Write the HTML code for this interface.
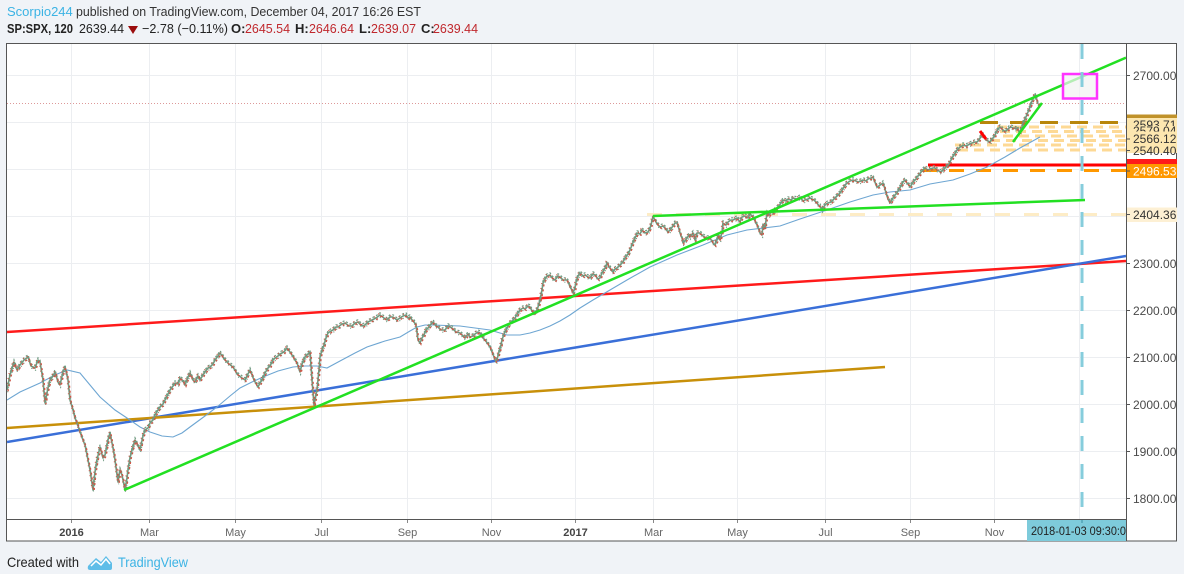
<!DOCTYPE html>
<html><head><meta charset="utf-8"><style>
html,body{margin:0;padding:0;background:#f0f3f7;width:1184px;height:574px;overflow:hidden;}
svg{display:block;}
text{font-family:"Liberation Sans",sans-serif;}
</style></head><body>
<svg width="1184" height="574" viewBox="0 0 1184 574" xmlns="http://www.w3.org/2000/svg" xmlns:xlink="http://www.w3.org/1999/xlink">
<defs>
<clipPath id="pane"><rect x="7" y="44" width="1119" height="475"/></clipPath>
<clipPath id="tl"><rect x="1027" y="520" width="99" height="21"/></clipPath>
<polyline id="px" points="7,390 10,375 14,362 17,370 20,365 24,360 28,357 31,366 35,368 38,360 40,362 43,380 45,403 48,388 50,380 53,376 55,372 58,382 60,385 63,372 65,367 68,380 70,400 73,410 75,418 78,426 80,432 83,440 85,445 88,460 90,470 93,490 95,472 97,460 100,447 103,458 105,455 108,440 110,433 113,448 115,460 118,482 120,470 122,475 125,490 127,478 128,470 130,458 132,450 135,440 138,446 140,450 143,436 145,430 148,428 150,423 153,420 155,415 158,410 160,407 163,404 165,400 168,394 170,390 173,386 175,383 178,384 180,378 183,381 185,385 188,377 190,373 193,380 195,382 198,376 200,380 203,375 205,372 208,368 210,367 213,364 215,360 218,356 220,353 223,357 225,360 229,364 233,367 236,372 238,375 242,378 245,380 248,374 250,370 254,380 258,387 260,383 262,380 265,373 268,368 270,366 273,360 275,358 278,356 280,354 284,352 287,348 290,352 292,355 295,360 297,363 300,372 302,364 305,357 308,354 310,352 312,380 314,405 316,395 317,390 319,370 320,357 322,350 324,345 326,338 328,333 331,331 333,330 336,327 338,327 342,324 345,323 349,326 352,326 355,323 358,322 362,326 365,325 368,322 372,320 376,318 380,315 384,318 387,320 390,317 393,317 397,320 400,318 403,316 406,315 408,318 410,317 412,320 414,322 416,325 418,340 420,343 422,338 424,335 426,330 428,328 431,324 433,322 436,326 438,327 441,330 445,330 448,326 452,328 456,332 460,333 463,336 465,338 468,334 470,337 473,336 475,334 478,332 480,333 483,338 485,340 488,344 490,347 492,352 494,357 496,362 498,356 499,352 501,345 502,340 504,334 506,330 508,326 510,323 513,320 515,318 518,313 520,310 523,308 525,309 528,306 530,307 532,311 534,313 536,311 537,310 539,304 540,300 542,290 543,283 545,279 547,276 550,275 553,279 555,280 558,276 560,277 563,280 567,280 569,284 570,287 572,290 573,293 575,288 576,282 578,276 580,273 583,276 585,275 588,277 590,278 593,274 595,275 598,279 600,278 602,273 604,270 606,266 607,263 609,267 610,268 612,271 613,272 615,269 617,268 619,266 620,265 623,262 625,258 628,254 630,250 632,245 634,240 636,236 637,233 640,234 642,230 645,233 648,232 650,228 651,225 652,221 653,217 655,220 656,222 658,225 660,227 663,226 665,228 668,232 670,230 673,226 675,223 677,223 679,229 680,233 682,238 683,243 685,241 687,238 689,235 690,237 693,233 695,240 697,233 700,233 703,236 706,238 710,238 713,243 715,245 717,240 718,235 720,240 722,232 723,223 726,225 728,222 731,220 733,220 735,219 737,218 740,222 742,217 745,216 748,218 750,214 753,217 755,221 757,225 759,230 760,233 762,235 763,225 765,228 767,213 769,215 771,212 773,213 775,210 777,208 779,206 781,203 783,200 786,201 788,199 791,200 793,198 797,199 800,197 803,201 805,200 808,199 810,198 812,199 814,200 816,202 817,203 819,206 820,206 822,210 823,208 825,205 826,204 828,203 831,202 833,200 835,198 837,196 839,194 840,193 842,190 844,187 846,184 847,183 850,181 853,180 856,181 858,182 861,181 863,180 866,181 868,179 871,178 873,177 874,180 875,182 876,185 877,187 879,186 880,185 882,184 883,183 885,189 886,193 888,199 890,203 892,200 893,198 895,195 897,193 899,189 901,186 903,182 905,180 907,183 908,184 910,187 912,184 914,181 916,179 917,177 919,175 921,172 923,170 925,168 928,170 930,169 933,168 935,168 937,170 939,171 941,172 943,170 945,168 947,166 949,164 950,162 952,158 954,155 956,152 957,150 959,148 960,147 962,146 963,145 966,146 968,145 970,144 972,143 975,142 977,142 979,140 980,138 982,136 983,135 985,138 986,140 988,141 990,142 992,139 994,137 996,133 997,131 999,128 1000,127 1002,129 1004,131 1006,131 1007,130 1009,128 1011,127 1013,128 1014,128 1016,129 1017,128 1019,131 1020,132 1022,127 1023,123 1025,119 1026,117 1028,112 1030,107 1031,104 1032,101 1034,97 1035,95 1036,99 1037,100 1038,104"/>
</defs>
<rect x="0" y="0" width="1184" height="574" fill="#f0f3f7"/>
<!-- header -->
<text x="7" y="16" font-size="13" fill="#3bb3e4">Scorpio244</text>
<text x="76" y="16" font-size="13" fill="#333" textLength="345" lengthAdjust="spacingAndGlyphs">published on TradingView.com, December 04, 2017 16:26 EST</text>
<text x="7" y="33" font-size="13" font-weight="bold" fill="#222" textLength="66" lengthAdjust="spacingAndGlyphs">SP:SPX, 120</text>
<text x="79" y="33" font-size="13" fill="#222" textLength="45" lengthAdjust="spacingAndGlyphs">2639.44</text>
<polygon points="128,26 138,26 133,34" fill="#9b0d0d"/>
<text x="142" y="33" font-size="13" fill="#222" textLength="86" lengthAdjust="spacingAndGlyphs">−2.78 (−0.11%)</text>
<text x="231" y="33" font-size="13" font-weight="bold" fill="#222">O:</text>
<text x="245" y="33" font-size="13" fill="#c0282d" textLength="45" lengthAdjust="spacingAndGlyphs">2645.54</text>
<text x="295" y="33" font-size="13" font-weight="bold" fill="#222">H:</text>
<text x="309" y="33" font-size="13" fill="#c0282d" textLength="45" lengthAdjust="spacingAndGlyphs">2646.64</text>
<text x="359" y="33" font-size="13" font-weight="bold" fill="#222">L:</text>
<text x="371" y="33" font-size="13" fill="#c0282d" textLength="45" lengthAdjust="spacingAndGlyphs">2639.07</text>
<text x="421" y="33" font-size="13" font-weight="bold" fill="#222">C:</text>
<text x="433" y="33" font-size="13" fill="#c0282d" textLength="45" lengthAdjust="spacingAndGlyphs">2639.44</text>

<!-- frame -->
<rect x="6.5" y="43.5" width="1170" height="497.5" fill="#fff" stroke="#555" stroke-width="1"/>

<!-- grid -->
<g stroke="#eceef1" stroke-width="1">
<line x1="7" y1="75.5" x2="1126" y2="75.5"/>
<line x1="7" y1="122.5" x2="1126" y2="122.5"/>
<line x1="7" y1="169.5" x2="1126" y2="169.5"/>
<line x1="7" y1="216.5" x2="1126" y2="216.5"/>
<line x1="7" y1="263.5" x2="1126" y2="263.5"/>
<line x1="7" y1="310.5" x2="1126" y2="310.5"/>
<line x1="7" y1="357.5" x2="1126" y2="357.5"/>
<line x1="7" y1="404.5" x2="1126" y2="404.5"/>
<line x1="7" y1="451.5" x2="1126" y2="451.5"/>
<line x1="7" y1="498.5" x2="1126" y2="498.5"/>
<line x1="71.5" y1="44" x2="71.5" y2="519"/>
<line x1="149.5" y1="44" x2="149.5" y2="519"/>
<line x1="235.5" y1="44" x2="235.5" y2="519"/>
<line x1="321.5" y1="44" x2="321.5" y2="519"/>
<line x1="407.5" y1="44" x2="407.5" y2="519"/>
<line x1="491.5" y1="44" x2="491.5" y2="519"/>
<line x1="575.5" y1="44" x2="575.5" y2="519"/>
<line x1="653.5" y1="44" x2="653.5" y2="519"/>
<line x1="737.5" y1="44" x2="737.5" y2="519"/>
<line x1="825.5" y1="44" x2="825.5" y2="519"/>
<line x1="910.5" y1="44" x2="910.5" y2="519"/>
<line x1="994.5" y1="44" x2="994.5" y2="519"/>
<line x1="1079.5" y1="44" x2="1079.5" y2="519"/>
</g>

<g clip-path="url(#pane)">
<line x1="7" y1="103.5" x2="1126" y2="103.5" stroke="#d99" stroke-width="1" stroke-dasharray="1 2"/>

<line x1="647" y1="214.5" x2="1126" y2="214.5" stroke="#fdecc6" stroke-width="3" stroke-dasharray="15 14"/>
<g stroke="#fdd995" stroke-width="3" stroke-dasharray="10 6">
<line x1="997" y1="127" x2="1126" y2="127"/>
<line x1="1000" y1="131.5" x2="1126" y2="131.5"/>
<line x1="1003" y1="136" x2="1126" y2="136"/>
<line x1="990" y1="140.5" x2="1126" y2="140.5"/>
<line x1="955" y1="145" x2="1126" y2="145"/>
<line x1="958" y1="150" x2="1126" y2="150"/>
</g>
<line x1="980" y1="122.5" x2="1126" y2="122.5" stroke="#b8860b" stroke-width="3" stroke-dasharray="18 12"/>
<line x1="928" y1="165" x2="1126" y2="165" stroke="#ff0000" stroke-width="3"/>
<line x1="922" y1="170.5" x2="1126" y2="170.5" stroke="#ff9800" stroke-width="3" stroke-dasharray="15 12"/>

<line x1="7" y1="332" x2="1126" y2="261" stroke="#ff1a1a" stroke-width="2.5"/>
<line x1="7" y1="442" x2="1126" y2="256" stroke="#3a6fd8" stroke-width="2.5"/>
<line x1="7" y1="428" x2="885" y2="367" stroke="#c8900a" stroke-width="2.5"/>

<polyline fill="none" stroke="#6ea6d2" stroke-width="1.1" points="7,400 20,392 40,383 55,375 67,370 80,373 90,385 100,397 115,410 127,418 140,427 150,432 162,436 173,437 182,433 190,427 205,416 217,407 230,396 240,388 252,382 263,377 278,371 293,367 305,366 317,366 327,368 340,361 355,353 367,347 385,341 400,337 410,331 417,327 425,325 433,325 460,326 475,328 490,330 500,333 507,335 520,335 530,333 540,330 550,326 560,321 570,315 580,308 593,300 610,290 627,280 650,267 677,255 703,245 727,235 747,230 780,226 800,219 827,210 850,202 873,195 890,192 910,190 930,184 953,180 970,174 987,167 1005,157 1020,148 1040,137"/>

<!-- price band (candles) -->
<use xlink:href="#px" href="#px" fill="none" stroke="#6f9a80" stroke-width="1.6" stroke-linejoin="round"/>
<use xlink:href="#px" href="#px" transform="translate(0,-2.2)" fill="none" stroke="#6f9a80" stroke-width="1.2" stroke-dasharray="2 2"/>
<use xlink:href="#px" href="#px" transform="translate(0.6,2.2)" fill="none" stroke="#6f9a80" stroke-width="1.2" stroke-dasharray="1 3"/>
<use xlink:href="#px" href="#px" transform="translate(1,1.2)" fill="none" stroke="#cd5546" stroke-width="1.4" stroke-dasharray="2 3"/>
<use xlink:href="#px" href="#px" transform="translate(-1,-1.2)" fill="none" stroke="#cd5546" stroke-width="1.2" stroke-dasharray="1 4"/>

<line x1="124" y1="490" x2="1126" y2="57.7" stroke="#22e022" stroke-width="2.5"/>
<line x1="653" y1="216" x2="1085" y2="200" stroke="#22e022" stroke-width="2.5"/>
<line x1="1013" y1="142" x2="1042" y2="103" stroke="#22e022" stroke-width="2.5"/>
<line x1="980" y1="131" x2="986" y2="139" stroke="#ff0000" stroke-width="3"/>

<rect x="1063" y="74" width="34" height="24.5" fill="#f2f2f2" fill-opacity="0.7" stroke="#ff33ff" stroke-width="2.5"/>

<line x1="1082" y1="44" x2="1082" y2="519" stroke="#86cddc" stroke-width="3" stroke-dasharray="15 13"/>
</g>

<line x1="1126.5" y1="43" x2="1126.5" y2="541" stroke="#555" stroke-width="1"/>
<line x1="6" y1="519.5" x2="1126.5" y2="519.5" stroke="#555" stroke-width="1"/>

<g stroke="#555" stroke-width="1">
<line x1="1126" y1="75.5" x2="1130" y2="75.5"/>
<line x1="1126" y1="263.5" x2="1130" y2="263.5"/>
<line x1="1126" y1="310.5" x2="1130" y2="310.5"/>
<line x1="1126" y1="357.5" x2="1130" y2="357.5"/>
<line x1="1126" y1="404.5" x2="1130" y2="404.5"/>
<line x1="1126" y1="451.5" x2="1130" y2="451.5"/>
<line x1="1126" y1="498.5" x2="1130" y2="498.5"/>
</g>
<g font-size="12" fill="#4a4a4a">
<text x="1133" y="80">2700.00</text>
<text x="1133" y="268">2300.00</text>
<text x="1133" y="315">2200.00</text>
<text x="1133" y="362">2100.00</text>
<text x="1133" y="409">2000.00</text>
<text x="1133" y="456">1900.00</text>
<text x="1133" y="503">1800.00</text>
</g>

<rect x="1127" y="114.5" width="50" height="3.5" fill="#c0922a"/>
<rect x="1127" y="118" width="50" height="35" fill="#fde7b0"/>
<text x="1133" y="129" font-size="12" fill="#333">2593.71</text>
<rect x="1127" y="126" width="50" height="4" fill="#fde7b0"/>
<text x="1133" y="135" font-size="12" fill="#333">2579.04</text>
<rect x="1127" y="131.5" width="50" height="14" fill="#fde7b0"/>
<text x="1133" y="143" font-size="12" fill="#333">2566.12</text>
<text x="1133" y="155" font-size="12" fill="#333">2540.40</text>
<rect x="1127" y="159" width="50" height="5" fill="#ff1a1a"/>
<rect x="1127" y="164" width="50" height="14" fill="#ff9800"/>
<text x="1133" y="175.5" font-size="12" fill="#fff">2496.53</text>
<rect x="1127" y="207.5" width="50" height="14.5" fill="#fdf0d4"/>
<text x="1133" y="219" font-size="12" fill="#333">2404.36</text>
<g stroke="#555" stroke-width="1">
<line x1="1126" y1="139" x2="1130" y2="139"/>
<line x1="1126" y1="150.5" x2="1130" y2="150.5"/>
<line x1="1126" y1="171" x2="1130" y2="171"/>
<line x1="1126" y1="214.5" x2="1130" y2="214.5"/>
</g>

<g stroke="#888" stroke-width="1">
<line x1="71.5" y1="520" x2="71.5" y2="523"/>
<line x1="149.5" y1="520" x2="149.5" y2="523"/>
<line x1="235.5" y1="520" x2="235.5" y2="523"/>
<line x1="321.5" y1="520" x2="321.5" y2="523"/>
<line x1="407.5" y1="520" x2="407.5" y2="523"/>
<line x1="491.5" y1="520" x2="491.5" y2="523"/>
<line x1="575.5" y1="520" x2="575.5" y2="523"/>
<line x1="653.5" y1="520" x2="653.5" y2="523"/>
<line x1="737.5" y1="520" x2="737.5" y2="523"/>
<line x1="825.5" y1="520" x2="825.5" y2="523"/>
<line x1="910.5" y1="520" x2="910.5" y2="523"/>
<line x1="994.5" y1="520" x2="994.5" y2="523"/>
</g>
<g font-size="11" fill="#666" text-anchor="middle">
<text x="71.5" y="536" font-weight="bold" fill="#444">2016</text>
<text x="149.5" y="536">Mar</text>
<text x="235.5" y="536">May</text>
<text x="321.5" y="536">Jul</text>
<text x="407.5" y="536">Sep</text>
<text x="491.5" y="536">Nov</text>
<text x="575.5" y="536" font-weight="bold" fill="#444">2017</text>
<text x="653.5" y="536">Mar</text>
<text x="737.5" y="536">May</text>
<text x="825.5" y="536">Jul</text>
<text x="910.5" y="536">Sep</text>
<text x="994.5" y="536">Nov</text>
</g>
<rect x="1027" y="520" width="99" height="21" fill="#7ecbdb"/>
<line x1="1082" y1="520" x2="1082" y2="523" stroke="#3a8fa3" stroke-width="1"/>
<g clip-path="url(#tl)">
<text x="1031" y="535" font-size="12" fill="#222" textLength="101" lengthAdjust="spacingAndGlyphs">2018-01-03 09:30:00</text>
</g>

<text x="7" y="567" font-size="14" fill="#222" textLength="72" lengthAdjust="spacingAndGlyphs">Created with</text>
<path d="M88,566 L96,558 L101,562 L106,556 L112,563 L112,568 Q112,570 110,570 L90,570 Q87,570 88,566 Z" fill="#5ebde8"/>
<polyline points="91,566 96,561 101,565 106,559 110,564" fill="none" stroke="#fff" stroke-width="1.5"/>
<text x="118" y="567" font-size="14" fill="#3bb3e4" textLength="70" lengthAdjust="spacingAndGlyphs">TradingView</text>
</svg>
</body></html>
